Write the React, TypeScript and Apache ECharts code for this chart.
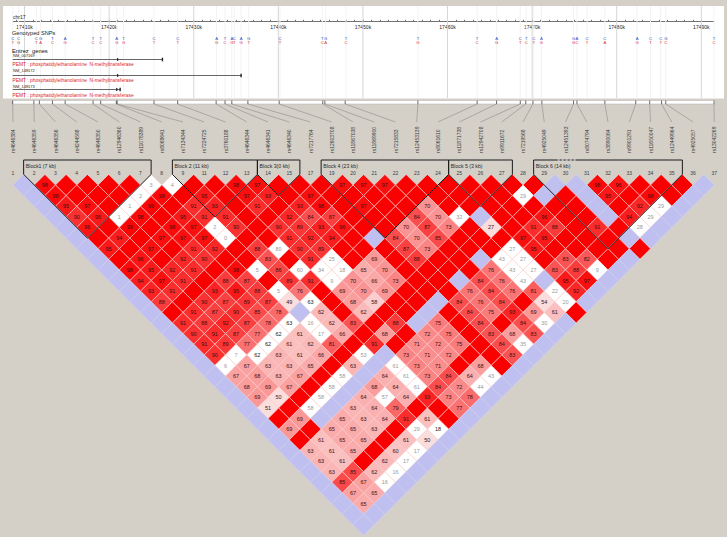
import React, { useEffect, useRef } from "react";
import * as echarts from "echarts";

const snpNames = ["rs4646384","rs4646359","rs4646356","rs4244598","rs4646350","rs12946360","rs11078389","rs8068641","rs7134344","rs7224725","rs3760188","rs4646344","rs4646341","rs4646340","rs7217764","rs12603708","rs11867038","rs11869900","rs7215833","rs12453139","rs8061610","rs11871738","rs12942708","rs9911672","rs7219568","rs4925049","rs12451393","rs8074794","rs3890064","rs9901291","rs11650047","rs12449964","rs4925057","rs13042269"];
const snpNumbers = [1,2,3,4,5,6,7,8,9,11,12,13,14,15,17,19,20,21,22,23,24,25,26,27,28,29,30,31,32,33,34,35,36,37];
const snpKb = [17408.6,17411.1,17411.75,17413.3,17414.8,17418.1,17419.0,17420.85,17420.95,17425.3,17428.1,17432.65,17433.7,17434.5,17436.4,17440.1,17445.25,17445.5,17447.9,17456.5,17463.5,17465.8,17468.6,17469.25,17470.1,17471.15,17474.9,17475.3,17478.6,17482.25,17483.9,17485.3,17485.8,17491.5];

const axisKb = [17410,17420,17430,17440,17450,17460,17470,17480,17490];

const genotypeKb = [17408.6,17409.3,17411.4,17411.9,17413.3,17414.8,17418.1,17419.0,17420.9,17421.7,17425.3,17428.1,17432.7,17433.7,17434.5,17434.8,17435.6,17436.5,17440.2,17445.2,17445.6,17448.0,17456.5,17463.5,17465.8,17468.6,17469.3,17470.2,17471.1,17474.9,17475.3,17476.5,17478.6,17482.4,17484.0,17485.2,17485.8,17491.5];
const alleleA = ["C","C","C","G","T","A","T","T","A","T","C","C","A","T","A","C","A","G","C","T","G","T","T","T","A","C","T","C","A","G","A","C","C","A","C","C","G","T"];
const alleleB = ["T","G","T","A","C","G","C","C","G","G","T","T","G","C","G","T","G","T","T","C","A","C","G","C","G","T","C","T","G","G","C","T","A","G","T","T","C","C"];

const geneNames = ["NM_007169","NM_148172","NM_148173"];
const geneTitle = "PEMT : phosphatidylethanolamine  N-methyltransferase";
const geneStartKb = [17408.6,17408.6,17408.6];
const geneEndKb = [17426.3,17435.6,17421.3];
const geneExonKb = [17421.0,17421.0,17420.9];

const blockNames = ["Block1 (7 kb)","Block 2 (11 kb)","Block 3(0 kb)","Block 4 (23 kb)","Block 5 (3 kb)","Block 6 (14 kb)"];
const blockFirst = [1,8,12,15,21,25];
const blockLast = [6,11,13,20,23,31];

// Every cell not listed below is D' = 100 on LOD >= 2 (solid red).
// Index in each list is the marker distance; entries are first-marker indices.
const lavenderRows: number[][] = [[],
  [0,25,26,32],[0,24,26,31],[0,26,30],[0,20,26,29],[0,28],[0,14,26,27],[0],[0,18,25],[0,24],[0,16,20,23],
  [0,22],[0,14,21],[0,7,13],[0,12,19],[0,18],[0,17],[0,9,16],[0,8,15],[0,7,14],[0,6,13],
  [0,5,12],[0,4,11],[0,3,10],[0,9],[0,8],[0,7],[0,6],[0,5],[0,4],[0,3],[0,2],[0,1],[0]];

const whiteRows: Record<number, number>[] = [{},
  {6:3,7:4},{5:2,23:29},{4:1,29:29},{3:1,19:32,28:29},{7:2,27:28},{7:0},{9:80,20:27},{11:25,19:43,20:27},
  {7:5,9:60,10:34,11:18,19:43,20:27,23:9},{10:9,19:43},{7:5,20:22},{20:20},{},{7:16,18:30},{7:17},{16:35},
  {2:7,8:53},{1:6,9:61},{6:58,9:61,13:43},{5:58,9:61,12:44},{4:58,7:57},{3:58},{},{7:29},{},{6:17},{5:17},{4:16},{3:16}];

const whiteDarkRows: Record<number, number>[] = [{},{},{},{},{},{},{},{},{},{},{},{},
  {8:63},{},{6:63},{5:62},{4:62},{3:62},{},{},{},{},{},{},{8:18}];

const shadedRows: Record<number, number>[] = [{},
  {1:98,10:98,11:97,15:97,16:97,17:97,27:98,28:96},
  {1:98,6:98,8:95,10:97,11:93,13:97,27:95,29:98},
  {1:95,2:97,5:99,7:91,8:93,10:91,12:93,13:98,15:97,18:70,28:92},
  {1:90,2:95,4:98,6:95,7:91,8:91,11:92,12:84,13:87,17:84,18:70,23:96,27:94},
  {1:96,3:99,5:98,6:97,8:90,10:90,11:89,12:93,13:96,16:70,17:87,18:73,20:27,22:91,23:88,25:91},
  {2:94,4:97,5:97,6:97,10:91,11:92,12:94,15:84,16:70,17:85,21:97,22:95},
  {1:95,3:97,5:91,6:92,8:88,10:90,11:89,15:87,16:73,21:95},
  {2:96,4:92,5:90,8:83,10:91,13:69,15:88,22:83,23:82},
  {1:98,2:95,3:92,4:91,6:98,8:86,12:65,13:70,18:76,21:83,22:88},
  {1:94,2:97,3:91,5:88,6:87,8:89,9:91,11:70,12:66,13:73,17:84,18:76,21:95,22:97},
  {1:93,2:91,4:93,5:95,6:88,8:76,10:69,11:70,12:69,16:76,17:84,18:76,19:81,21:92},
  {1:88,3:90,4:87,5:89,6:87,7:49,10:68,11:58,15:84,16:76,17:84,19:54},
  {2:91,3:87,4:90,5:85,6:78,8:62,10:62,15:84,16:75,17:93,18:69,19:61},
  {1:91,2:88,3:92,4:87,5:78,8:62,9:83,11:88,13:75,15:84,17:84},
  {1:90,2:91,3:87,4:77,6:61,8:66,10:68,12:72,13:75,15:83,16:68,17:83},
  {1:91,2:89,3:77,5:61,6:62,7:81,9:91,11:71,12:72,13:75,15:84},
  {1:90,4:63,5:61,6:66,10:73,11:71,12:72,15:83},
  {2:67,3:63,4:63,5:65,7:63,10:73,11:71,13:68},
  {1:67,2:68,3:63,4:67,8:64,10:73,11:84,12:64},
  {1:68,2:69,3:67,7:68,8:64,10:84,11:72},
  {1:69,2:50,6:64,8:64,9:93,10:73,11:78},
  {1:51,5:63,6:64,7:79,10:77},
  {2:69,4:65,5:63,6:64,7:91,8:61},
  {1:69,3:65,4:65,5:63},
  {2:61,3:65,4:65,6:61,7:50},
  {1:63,2:61,3:65,5:60},
  {1:63,2:61,4:62},
  {1:63,2:85,3:62},
  {1:85,2:67},
  {1:67,2:65},
  {1:65}];

const MARKERS = snpNames.length;
const BG = "#d4d0c8";
const FONT = '"Liberation Sans", Arial, sans-serif';

const KIND_RED = 0, KIND_SHADE = 1, KIND_WHITE = 2, KIND_WHITE_DARK = 3, KIND_LAV = 4;

function buildCells() {
  const out: number[][] = [];
  for (let d = 1; d < MARKERS; d++) {
    for (let i = 0; i < MARKERS - d; i++) {
      const n = i + d / 2;
      let kind = KIND_RED;
      let v = -1;
      if ((lavenderRows[d] || []).includes(i)) kind = KIND_LAV;
      else if (whiteRows[d] && whiteRows[d][i] !== undefined) { kind = KIND_WHITE; v = whiteRows[d][i]; }
      else if (whiteDarkRows[d] && whiteDarkRows[d][i] !== undefined) { kind = KIND_WHITE_DARK; v = whiteDarkRows[d][i]; }
      else if (shadedRows[d] && shadedRows[d][i] !== undefined) { kind = KIND_SHADE; v = shadedRows[d][i]; }
      out.push([n, d, v, kind]);
    }
  }
  return out;
}

function cellFill(v: number, kind: number) {
  if (kind === KIND_RED) return "#fb0000";
  if (kind === KIND_LAV) return "#c0c0f0";
  if (kind === KIND_WHITE || kind === KIND_WHITE_DARK) return "#ffffff";
  const g = Math.round(Math.min(222, 490 * (1 - v / 100)));
  return `rgb(250,${g},${g})`;
}

function renderCell(_p: any, api: any) {
  const n = api.value(0), d = api.value(1), v = api.value(2), kind = api.value(3);
  const c = api.coord([n, d]);
  const l = api.coord([n - 0.5, d]);
  const t = api.coord([n, d - 1]);
  const r = api.coord([n + 0.5, d]);
  const b = api.coord([n, d + 1]);
  const children: any[] = [{
    type: "polygon",
    shape: { points: [l, t, r, b] },
    style: {
      fill: cellFill(v, kind),
      stroke: kind === KIND_LAV ? "#cfcff2" : "rgba(255,205,205,0.9)",
      lineWidth: 0.7,
    },
  }];
  if (v >= 0) {
    children.push({
      type: "text",
      x: c[0], y: c[1],
      style: {
        text: String(v), align: "center", verticalAlign: "middle",
        font: `5.5px ${FONT}`,
        fill: kind === KIND_WHITE ? "#9a9a9a" : kind === KIND_WHITE_DARK ? "#222222" : "#421010",
      },
    });
  }
  return { type: "group", children };
}

function renderBlock(_p: any, api: any) {
  const idx = api.value(0);
  const a = blockFirst[idx], z = blockLast[idx];
  const topD = -1.354;
  const tl = api.coord([a - 0.5, topD]);
  const sl = api.coord([a - 0.5, 0]);
  const tip = api.coord([(a + z) / 2, z - a + 1]);
  const sr = api.coord([z + 0.5, 0]);
  const tr = api.coord([z + 0.5, topD]);
  const children: any[] = [
    { type: "polygon", shape: { points: [tl, sl, tip, sr, tr] }, style: { fill: "none", stroke: "#1c1c1c", lineWidth: 1 } },
    { type: "text", x: tl[0] + 2.2, y: tl[1] + 5.6, style: { text: blockNames[idx], font: `5.2px ${FONT}`, fill: "#2a2a2a", align: "left", verticalAlign: "middle" } },
  ];
  if (idx === 5) {
    children.push({ type: "line", shape: { x1: tl[0] + 24, y1: tl[1], x2: tl[0] + 42, y2: tl[1] }, style: { stroke: "#ffffff", lineWidth: 1, lineDash: [2, 2] } });
  }
  return { type: "group", children };
}

function renderMarker(_p: any, api: any) {
  const k = api.value(0);
  const c = api.coord([k, 0]);
  return {
    type: "group",
    children: [
      { type: "text", x: c[0], y: 172.7, style: { text: String(snpNumbers[k]), font: `5px ${FONT}`, fill: "#3c3c3c", align: "center", verticalAlign: "middle" } },
      { type: "text", x: c[0], y: 153, rotation: Math.PI / 2, style: { text: snpNames[k], font: `5px ${FONT}`, fill: "#3c3c3c", align: "left", verticalAlign: "middle" } },
    ],
  };
}

function renderConnector(_p: any, api: any) {
  const k = api.value(0);
  const top = api.coord([snpKb[k], 0]);
  const endX = 13 + 21.25 * k;
  return {
    type: "group",
    children: [
      { type: "line", shape: { x1: top[0], y1: 104, x2: endX, y2: 122 }, style: { stroke: "#8c8c88", lineWidth: 0.6 } },
      { type: "line", shape: { x1: top[0], y1: 100.5, x2: top[0], y2: 104 }, style: { stroke: "#444444", lineWidth: 0.8 } },
    ],
  };
}

function renderGridLine(_p: any, api: any) {
  const c = api.coord([api.value(0), 0]);
  return { type: "line", shape: { x1: c[0], y1: 6, x2: c[0], y2: 98 }, style: { stroke: api.value(1) ? "#d6d6d6" : "#f3f3f3", lineWidth: 1 } };
}

function renderGenotype(_p: any, api: any) {
  const idx = api.value(1);
  const c = api.coord([api.value(0), 0]);
  return {
    type: "group",
    children: [
      { type: "text", x: c[0], y: 38.1, style: { text: alleleA[idx], font: `4.2px ${FONT}`, fill: "#2f4fc0", align: "center", verticalAlign: "middle" } },
      { type: "text", x: c[0], y: 42.9, style: { text: alleleB[idx], font: `4.2px ${FONT}`, fill: "#e03040", align: "center", verticalAlign: "middle" } },
    ],
  };
}

function renderGene(_p: any, api: any) {
  const idx = api.value(0);
  const ys = [59.5, 75.5, 89.5];
  const nameYs = [55.8, 70.8, 86];
  const titleYs = [64.2, 80, 95];
  const y = ys[idx];
  const s = api.coord([geneStartKb[idx], 0])[0];
  const e = api.coord([geneEndKb[idx], 0])[0];
  const x = api.coord([geneExonKb[idx], 0])[0];
  return {
    type: "group",
    children: [
      { type: "text", x: 13, y: nameYs[idx], style: { text: geneNames[idx], font: `4px ${FONT}`, fill: "#222222", align: "left", verticalAlign: "middle" } },
      { type: "text", x: 12.5, y: titleYs[idx], style: { text: geneTitle, font: `4.9px ${FONT}`, fill: "#e01c2c", align: "left", verticalAlign: "middle" } },
      { type: "line", shape: { x1: s, y1: y, x2: e, y2: y }, style: { stroke: "#666666", lineWidth: 1 } },
      { type: "line", shape: { x1: e, y1: y - 1.8, x2: e, y2: y + 1.8 }, style: { stroke: "#222222", lineWidth: 1.4 } },
      { type: "line", shape: { x1: x, y1: y - 1.4, x2: x, y2: y + 1.4 }, style: { stroke: "#222222", lineWidth: 1.2 } },
    ],
  };
}

export default function App() {
  const ref = useRef<HTMLDivElement>(null);
  useEffect(() => {
    document.body.style.margin = "0";
    document.body.style.background = BG;
    const chart = echarts.init(ref.current!, undefined, { renderer: "svg" });
    const markerData = snpNames.map((_, k) => [k]);
    const kbTicks = Array.from({ length: 82 }, (_, i) => 17409 + i);
    chart.setOption({
      animation: false,
      backgroundColor: BG,
      textStyle: { fontFamily: FONT },
      graphic: [
        { type: "rect", z: -10, silent: true, shape: { x: 3, y: 6, width: 721, height: 92.5 }, style: { fill: "#ffffff" } },
        { type: "rect", z: -10, silent: true, shape: { x: 12.5, y: 100.5, width: 703, height: 3.5 }, style: { fill: "#ffffff", stroke: "#b0b0ac", lineWidth: 0.5 } },
        { type: "text", z: 5, silent: true, x: 13, y: 16.6, style: { text: "chr17", font: `5px ${FONT}`, fill: "#222222", verticalAlign: "middle" } },
        { type: "text", z: 5, silent: true, x: 12, y: 33.2, style: { text: "Genotyped SNPs", font: `5.6px ${FONT}`, fill: "#222222", verticalAlign: "middle" } },
        { type: "text", z: 5, silent: true, x: 12, y: 50.5, style: { text: "Entrez  genes", font: `5.8px ${FONT}`, fill: "#111111", verticalAlign: "middle" } },
      ],
      grid: [
        { left: 12.7, top: 21, width: 701.3, height: 77 },
        { left: 13, top: 174.38, width: 701.25, height: 350.46 },
      ],
      xAxis: [
        {
          gridIndex: 0, type: "value", min: 17408.6, max: 17491.5, position: "top",
          axisLine: { show: true, onZero: false, lineStyle: { color: "#333333", width: 0.7 } },
          axisTick: { show: true, length: 1.2, customValues: kbTicks, lineStyle: { color: "#333333", width: 0.7 } },
          axisLabel: {
            show: true, inside: true, margin: 3.5, fontSize: 5, color: "#222222", fontFamily: FONT,
            customValues: axisKb, hideOverlap: false,
            formatter: (v: number) => `${v}k`,
          },
          splitLine: { show: false },
        },
        { gridIndex: 1, type: "value", min: 0, max: MARKERS - 1, show: false },
      ],
      yAxis: [
        { gridIndex: 0, type: "value", min: 0, max: 77, inverse: true, show: false },
        { gridIndex: 1, type: "value", min: 0, max: MARKERS - 1, inverse: true, show: false },
      ],
      series: [
        { type: "custom", silent: true, z: 1, xAxisIndex: 0, yAxisIndex: 0, data: genotypeKb.map((v) => [v, 0]), renderItem: renderGridLine },
        { type: "custom", silent: true, z: 1, xAxisIndex: 0, yAxisIndex: 0, data: axisKb.map((v) => [v, 1]), renderItem: renderGridLine },
        { type: "custom", silent: true, z: 2, xAxisIndex: 0, yAxisIndex: 0, data: genotypeKb.map((v, i) => [v, i]), renderItem: renderGenotype },
        { type: "custom", silent: true, z: 2, xAxisIndex: 0, yAxisIndex: 0, data: geneNames.map((_, i) => [i]), renderItem: renderGene },
        { type: "custom", silent: true, z: 2, xAxisIndex: 0, yAxisIndex: 0, data: markerData, renderItem: renderConnector },
        { type: "custom", silent: true, z: 2, xAxisIndex: 1, yAxisIndex: 1, data: markerData, renderItem: renderMarker },
        { type: "custom", silent: true, z: 3, xAxisIndex: 1, yAxisIndex: 1, data: buildCells(), renderItem: renderCell },
        { type: "custom", silent: true, z: 4, xAxisIndex: 1, yAxisIndex: 1, data: blockNames.map((_, i) => [i]), renderItem: renderBlock },
      ],
    });
    return () => chart.dispose();
  }, []);
  return <div ref={ref} style={{ width: 727, height: 537, position: "absolute", left: 0, top: 0 }} />;
}
